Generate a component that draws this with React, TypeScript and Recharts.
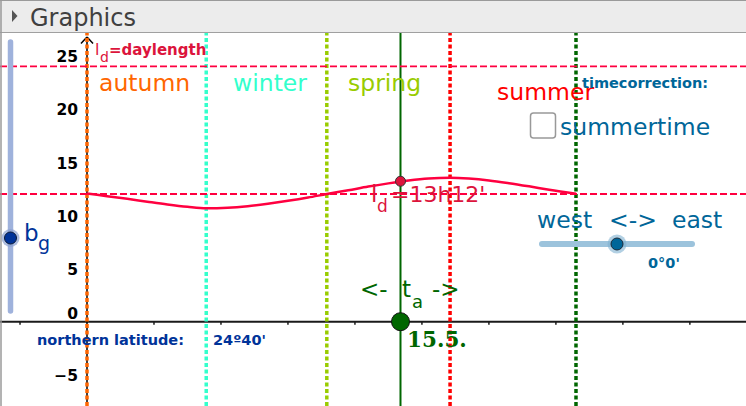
import React from 'react';
import { ComposedChart, Line, XAxis, YAxis, ReferenceLine, ReferenceDot } from 'recharts';

// ---- data ----
const days = [0, 15, 30, 45, 60, 75, 89, 105, 120, 135, 150, 165, 179, 195, 210, 225, 240, 255, 271, 285, 300, 315, 330, 345, 365];
const hours = [12.05, 11.8, 11.55, 11.28, 11.02, 10.8, 10.66, 10.71, 10.86, 11.09, 11.36, 11.67, 12.0, 12.35, 12.7, 13.0, 13.26, 13.45, 13.52, 13.45, 13.28, 13.02, 12.72, 12.4, 12.02];
const seasonNames = ['autumn', 'winter', 'spring', 'summer'];
const seasonDays = [0, 89, 179, 271];
const yearEndDay = 365;
const taDay = 234;
const taHours = 13.2;
const dashedLevels = [12, 24];
const yTicks = [-5, 0, 5, 10, 15, 20, 25];
const xTicks = [-50, 50, 100, 150, 200, 250, 300, 350, 400, 450];

const table = days.map((d, i) => ({ day: d, hours: hours[i] }));

// ---- styles ----
const W = 746;
const H = 406;
const F = 'DejaVu Sans, sans-serif';
const seasonColors = ['#ff6600', '#33ffcc', '#99cc00', '#ff0000'];
const dark = '#006600';
const crimson = '#dc143c';
const curveRed = '#ff0040';
const teal = '#006699';
const navy = '#003399';

const YTick = (props: any) => {
  const { y, payload } = props;
  const v = payload.value;
  return (
    <text x={78} y={v === 0 ? y - 3 : y + 6.5} textAnchor="end" fontFamily={F} fontSize={15.5} fontWeight="bold" fill="#000">
      {v < 0 ? '\u2212' + Math.abs(v) : String(v)}
    </text>
  );
};

export default function App() {
  return (
    <div style={{ position: 'absolute', left: 0, top: 0, width: W, height: H, background: '#fff' }}>
      <ComposedChart width={W} height={H} data={table} margin={{ top: 33, right: 0, bottom: 0, left: 0 }}>
        <XAxis type="number" dataKey="day" domain={[-64.94, 491.9]} hide allowDataOverflow />
        <YAxis
          type="number"
          domain={[-7.92, 27.13]}
          ticks={yTicks}
          interval={0}
          width={60}
          mirror
          axisLine={false}
          tickLine={false}
          tick={<YTick />}
          allowDataOverflow
        />
        {/* x axis */}
        <ReferenceLine y={0} stroke="#1a1a1a" strokeWidth={2} />
        {xTicks.map((t) => (
          <ReferenceLine key={'t' + t} segment={[{ x: t, y: 0 }, { x: t, y: -0.28 }]} stroke="#1a1a1a" strokeWidth={1.5} />
        ))}
        {/* y axis with arrow */}
        <ReferenceLine segment={[{ x: 0, y: -7.9 }, { x: 0, y: 26.75 }]} stroke="#000" strokeWidth={1.5} />
        <ReferenceLine segment={[{ x: -4.5, y: 26.15 }, { x: 0, y: 26.75 }]} stroke="#000" strokeWidth={1.5} />
        <ReferenceLine segment={[{ x: 4.5, y: 26.15 }, { x: 0, y: 26.75 }]} stroke="#000" strokeWidth={1.5} />
        {/* season lines */}
        {seasonDays.map((d, i) => (
          <ReferenceLine key={'s' + i} x={d} stroke={seasonColors[i]} strokeWidth={3.5} strokeDasharray="4 2.5" />
        ))}
        <ReferenceLine x={yearEndDay} stroke={dark} strokeWidth={3.5} strokeDasharray="4 2.5" />
        <ReferenceLine x={taDay} stroke={dark} strokeWidth={2} />
        {dashedLevels.map((v) => (
          <ReferenceLine key={'h' + v} y={v} stroke={curveRed} strokeWidth={1.8} strokeDasharray="7 3" />
        ))}
        <Line type="monotone" dataKey="hours" stroke={curveRed} strokeWidth={2.5} dot={false} isAnimationActive={false} />
        <ReferenceDot x={taDay} y={taHours} r={5} fill={crimson} stroke="#333" strokeWidth={1} />
        <ReferenceDot x={taDay} y={0} r={9} fill={dark} stroke="#111" strokeWidth={1} />
      </ComposedChart>

      <svg width={W} height={H} style={{ position: 'absolute', left: 0, top: 0, pointerEvents: 'none' }} fontFamily={F}>
        {/* header */}
        <rect x={0} y={0} width={W} height={32.5} fill="#ececec" />
        <line x1={0} y1={32.5} x2={W} y2={32.5} stroke="#a0a0a0" strokeWidth={1} />
        <line x1={0} y1={0.5} x2={W} y2={0.5} stroke="#9a9a9a" strokeWidth={1} />
        <line x1={1} y1={0} x2={1} y2={H} stroke="#9a9a9a" strokeWidth={1.5} />
        <polygon points="12,10 17.5,16 12,22" fill="#555" />
        <text x={30} y={26} fontSize={24} fill="#404040">Graphics</text>

        {/* daylength legend */}
        <text x={95} y={55} fontSize={16} fill={crimson}>l</text>
        <text x={100} y={62} fontSize={14} fill={crimson}>d</text>
        <text x={109} y={55} fontSize={15} fontWeight="bold" fill={crimson}>=daylength</text>

        {/* seasons */}
        <text x={99} y={91} fontSize={23.5} fill={seasonColors[0]}>{seasonNames[0]}</text>
        <text x={233} y={91} fontSize={23.5} fill={seasonColors[1]}>{seasonNames[1]}</text>
        <text x={348} y={91} fontSize={23.5} fill={seasonColors[2]}>{seasonNames[2]}</text>
        <text x={497} y={100} fontSize={23.5} fill={seasonColors[3]}>{seasonNames[3]}</text>

        {/* time correction */}
        <text x={582} y={88} fontSize={14.5} fontWeight="bold" fill={teal}>timecorrection:</text>
        <rect x={530.5} y={113} width={25} height={25} rx={3} fill="#fff" stroke="#999" strokeWidth={1.5} />
        <text x={560} y={135} fontSize={23.5} fill={teal}>summertime</text>

        {/* daylength value */}
        <text x={371} y={202} fontSize={23} fill={crimson}>l</text>
        <text x={377} y={212} fontSize={17} fill={crimson}>d</text>
        <text x={391} y={202} fontSize={22} fill={crimson}>=13h12'</text>

        {/* west-east slider */}
        <text x={537} y={228} fontSize={23.5} fill={teal}>west</text>
        <text x={609} y={228} fontSize={23.5} fill={teal}>{'<->'}</text>
        <text x={672} y={228} fontSize={23.5} fill={teal}>east</text>
        <line x1={542} y1={244} x2={692} y2={244} stroke="#9cc3dc" strokeWidth={6} strokeLinecap="round" />
        <circle cx={617} cy={244} r={9.5} fill="#7fb0d0" opacity={0.6} />
        <circle cx={617} cy={244} r={6} fill={teal} stroke="#1a2a3a" strokeWidth={1} />
        <text x={648} y={268} fontSize={14.5} fontWeight="bold" fill={teal}>0°0'</text>

        {/* left slider */}
        <line x1={10.5} y1={42} x2={10.5} y2={311} stroke="#9fb2dc" strokeWidth={5.5} strokeLinecap="round" />
        <circle cx={10.5} cy={238} r={9} fill="#8aa0d0" opacity={0.7} />
        <circle cx={10.5} cy={238} r={6} fill={navy} stroke="#0a1a3a" strokeWidth={1} />
        <text x={24} y={241} fontSize={23} fill={navy}>b</text>
        <text x={38} y={250} fontSize={19} fill={navy}>g</text>

        {/* latitude */}
        <text x={37} y={345} fontSize={14.5} fontWeight="bold" fill={navy}>northern latitude:</text>
        <text x={213} y={345} fontSize={14.5} fontWeight="bold" fill={navy}>24º40'</text>

        {/* t_a */}
        <text x={360} y={297} fontSize={23} fill={dark}>{'<-'}</text>
        <text x={402} y={297} fontSize={23} fill={dark}>t</text>
        <text x={412} y={308} fontSize={18} fill={dark}>a</text>
        <text x={432} y={297} fontSize={23} fill={dark}>{'->'}</text>
        <text x={407} y={347} fontSize={21.5} fontWeight="bold" fontFamily="DejaVu Serif, serif" fill={dark}>15.5.</text>
      </svg>
    </div>
  );
}
